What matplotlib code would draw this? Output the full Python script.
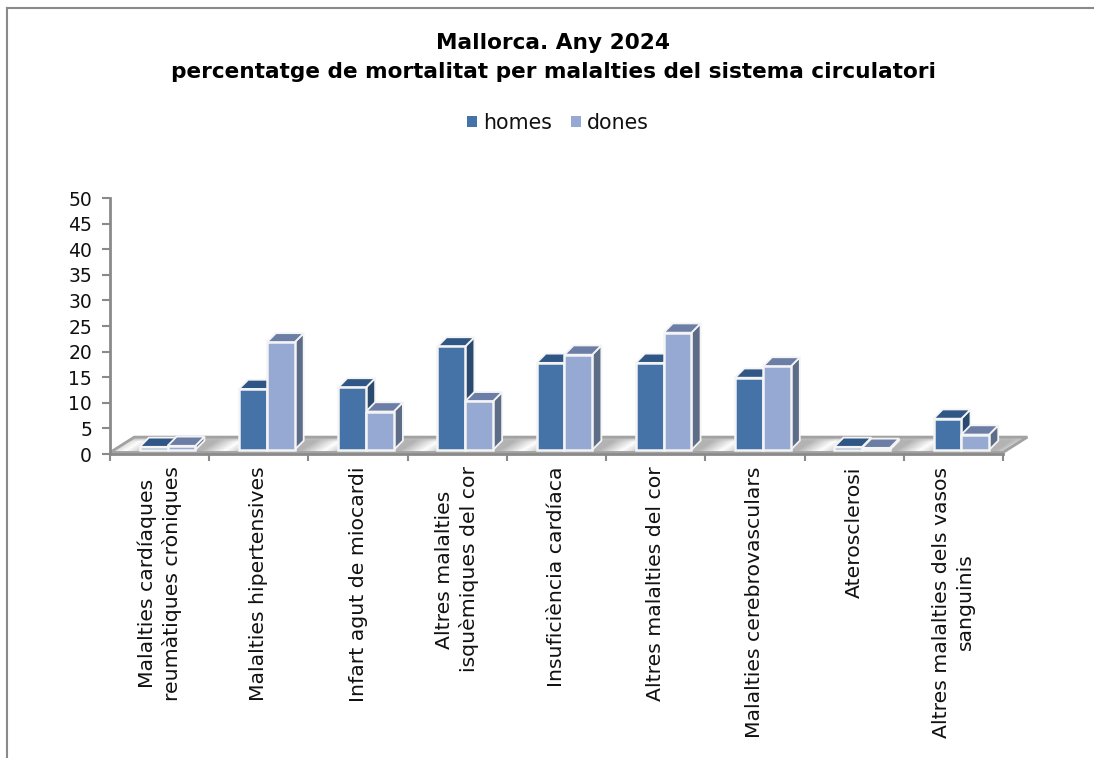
import matplotlib
matplotlib.use('Agg')
import matplotlib.pyplot as plt
from matplotlib.patches import Polygon, Rectangle, Patch
from matplotlib.lines import Line2D
import numpy as np

categories = ['Malalties cardíaques\nreumàtiques cròniques', 'Malalties hipertensives',
              'Infart agut de miocardi', 'Altres malalties\nisquèmiques del cor',
              'Insuficiència cardíaca', 'Altres malalties del cor',
              'Malalties cerebrovasculars', 'Aterosclerosi',
              'Altres malalties dels vasos\nsanguinis']
homes = [0.6, 11.9, 12.2, 20.2, 17.0, 17.0, 14.1, 0.6, 6.1]
dones = [0.8, 21.0, 7.5, 9.5, 18.6, 22.9, 16.3, 0.4, 3.0]
y_ticks = list(range(0, 55, 5))

W, H = 1094, 758
AXIS_COLOR = '#8a8a8a'

# 3D look offsets, in data units
BAR_W = 0.28
BAR_LEFT = 0.30
DEPTH_X = 0.092
DEPTH_Y = 1.8
BASE_Y = 0.8
FLOOR_X = 0.245
FLOOR_Y = 3.3

homes_style = {'front': '#4572a7', 'top': '#2f5685', 'side': '#2a4a70'}
dones_style = {'front': '#95a9d2', 'top': '#6c7ea6', 'side': '#5d6d88'}

fig = plt.figure(figsize=(W / 100, H / 100), dpi=100)
ax = fig.add_axes([110 / W, 1 - 454 / H, 893 / W, 256 / H])
n = len(categories)


def draw_bar(x, v, style):
    top = BASE_Y + v
    ax.add_patch(Polygon([(x + BAR_W, BASE_Y), (x + BAR_W + DEPTH_X, BASE_Y + DEPTH_Y),
                          (x + BAR_W + DEPTH_X, top + DEPTH_Y), (x + BAR_W, top)],
                         fc=style['side'], ec='#f4f4f4', lw=1.3, zorder=4, clip_on=False))
    ax.add_patch(Polygon([(x, top), (x + DEPTH_X, top + DEPTH_Y),
                          (x + BAR_W + DEPTH_X, top + DEPTH_Y), (x + BAR_W, top)],
                         fc=style['top'], ec='#f4f4f4', lw=1.3, zorder=4, clip_on=False))
    ax.add_patch(Rectangle((x, BASE_Y), BAR_W, v, fc=style['front'], ec='#f4f4f4',
                           lw=1.8, zorder=5, clip_on=False))


# floor with soft shading between the bars, sheared like the floor itself
u, t = np.meshgrid(np.linspace(0, n, 900), np.linspace(0, 1, 30))
dist = np.abs((u % 1) - 0.12)
dist = np.minimum(dist, 1 - dist)
light = np.clip(1 - dist / 0.24, 0, 1)
band = np.clip((t - 0.75) / 0.25, 0, 1)
shade = (0.7 + 0.3 * light) * (1 - band) + 0.76 * band
ax.pcolormesh(u + FLOOR_X * t, 0.3 + (FLOOR_Y - 0.3) * t, shade, cmap='gray', vmin=0, vmax=1,
              shading='gouraud', zorder=1, clip_on=False)
floor_pts = [(0, 0.3), (n, 0.3), (n + FLOOR_X, FLOOR_Y), (FLOOR_X, FLOOR_Y)]
ax.add_patch(Polygon(floor_pts, fc='none', ec='#a2a2a2', lw=2, zorder=2, clip_on=False))
ax.set_xlim(0, n)
ax.set_ylim(0, 50)
ax.patch.set_alpha(0)

for i in range(n):
    draw_bar(i + BAR_LEFT, homes[i], homes_style)
    draw_bar(i + BAR_LEFT + BAR_W, dones[i], dones_style)

ax.set_xticks(np.arange(n + 1))
ax.set_xticklabels([])
ax.set_xticks(np.arange(n) + 0.5, minor=True)
ax.set_xticklabels(categories, minor=True, rotation=90, fontsize=14.7, va='top', ha='center',
                   multialignment='center', linespacing=1.3, color='#111111')
ax.tick_params(axis='x', which='minor', length=0, pad=9)
ax.tick_params(axis='x', which='major', length=5, width=1.5, color=AXIS_COLOR)
ax.set_yticks(y_ticks)
ax.tick_params(axis='y', length=6, width=1.5, color=AXIS_COLOR, labelsize=13.5, pad=7)
for lab in ax.get_yticklabels():
    lab.set_color('#111111')
for s in ['top', 'right']:
    ax.spines[s].set_visible(False)
for s in ['left', 'bottom']:
    ax.spines[s].set_color(AXIS_COLOR)
    ax.spines[s].set_linewidth(2)

fig.text(553 / W, 1 - 43 / H, 'Mallorca. Any 2024', fontsize=15.6, fontweight='bold',
         ha='center', va='center', color='black')
fig.text(554 / W, 1 - 72 / H, 'percentatge de mortalitat per malalties del sistema circulatori',
         fontsize=15.6, fontweight='bold', ha='center', va='center', color='black')

handles = [Patch(fc=homes_style['front']), Patch(fc=dones_style['front'])]
fig.legend(handles, ['homes', 'dones'], loc='center', bbox_to_anchor=(558 / W, 1 - 123 / H),
           ncol=2, frameon=False, fontsize=14.8, handlelength=0.46, handleheight=0.46,
           handletextpad=0.3, columnspacing=0.93, labelcolor='#111111')

# outer frame
fig.add_artist(Line2D([7 / W, 1], [1 - 8 / H, 1 - 8 / H], color='#8a8a8a', lw=1.5))
fig.add_artist(Line2D([7 / W, 7 / W], [1 - 8 / H, 0], color='#8a8a8a', lw=1.5))

fig.savefig('out.png', dpi=100)
